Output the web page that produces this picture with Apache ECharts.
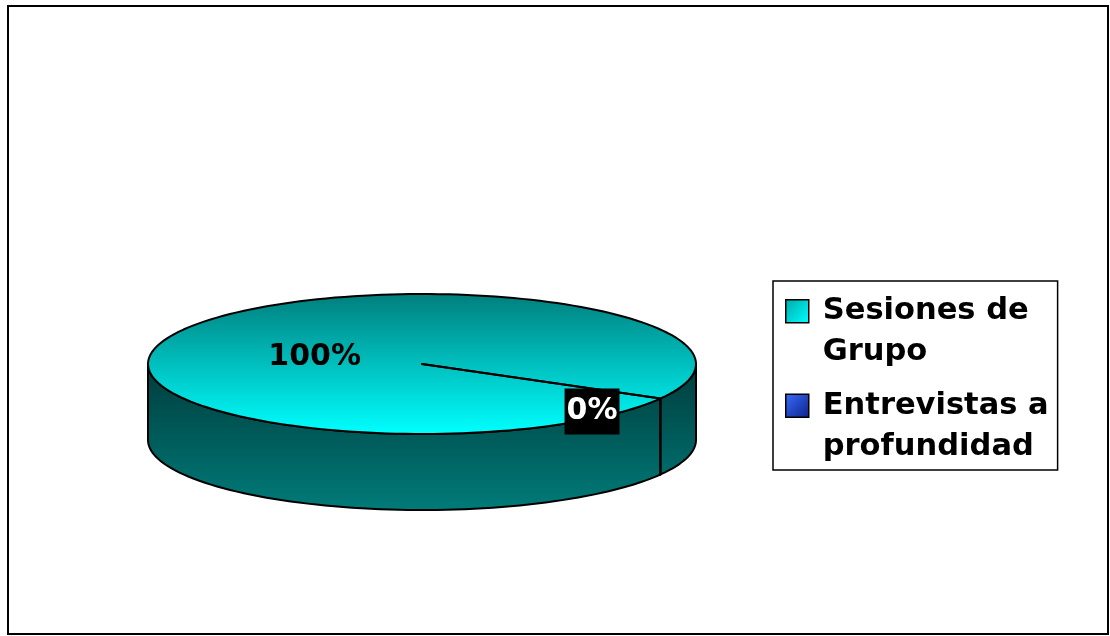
<!DOCTYPE html>
<html><head><meta charset="utf-8">
<script src="https://cdn.jsdelivr.net/npm/echarts@6/dist/echarts.min.js"></script>
<style>html,body{margin:0;padding:0;background:#fff}#c{width:1110px;height:636px}</style>
</head><body><div id="c"></div>
<script>
// ---- data ----
const categories = ['Sesiones de Grupo', 'Entrevistas a profundidad'];
const values = [100, 0];

// ---- layout / style (not data) ----
const PIE = {cx: 422, cy: 364, rx: 274, ry: 70, depth: 76, startAngle: 29.5};
const labelLayout = [{k: 0.45, dy: 9}, {k: 0.713, dy: 23}];
const labelStyle = [
  {fill: '#000', backgroundColor: null},
  {fill: '#fff', backgroundColor: '#000'}
];
const topStops = [
  [{offset: 0, color: '#007f7d'}, {offset: 1, color: '#00ffff'}],
  [{offset: 0, color: '#1a2f9a'}, {offset: 1, color: '#3366ff'}]
];
const wallStops = [
  [{offset: 0, color: '#003c3c'}, {offset: 1, color: '#007b79'}],
  [{offset: 0, color: '#0a1450'}, {offset: 1, color: '#1a3090'}]
];
const legendIconStyle = [
  {color: {type: 'linear', x: 0, y: 0.11, x2: 1, y2: 0.39, colorStops: [{offset: 0, color: '#00a8a8'}, {offset: 1, color: '#00ffff'}]}, borderColor: '#000', borderWidth: 1.5},
  {color: {type: 'linear', x: 0, y: 0.11, x2: 1, y2: 0.39, colorStops: [{offset: 0, color: '#3a6cff'}, {offset: 1, color: '#0c238a'}]}, borderColor: '#000', borderWidth: 1.5}
];

const total = values.reduce((s, v) => s + v, 0);

function pt(a, dy) {
  const r = a * Math.PI / 180;
  return [PIE.cx + PIE.rx * Math.cos(r), PIE.cy + PIE.ry * Math.sin(r) + (dy || 0)];
}
function arc(a, b, dy) {
  const pts = [];
  const n = Math.max(1, Math.ceil(Math.abs(b - a) / 2));
  for (let i = 0; i <= n; i++) pts.push(pt(a + (b - a) * i / n, dy));
  return pts;
}

function renderSlice(params, api) {
  const i = params.seriesIndex;
  let before = 0;
  for (let j = 0; j < i; j++) before += values[j];
  const a = PIE.startAngle + before / total * 360;
  const b = a + api.value(0) / total * 360;
  const children = [];
  const wallFill = {type: 'linear', x: 0, y: PIE.cy, x2: 0, y2: PIE.cy + PIE.ry + PIE.depth, global: true, colorStops: wallStops[i]};
  for (let k = -1; k <= 2; k++) {
    const s = Math.max(a, k * 360), e = Math.min(b, k * 360 + 180);
    if (e > s || (e === s && s >= k * 360 && s <= k * 360 + 180)) {
      const poly = arc(s, e, 0).concat(arc(e, s, PIE.depth));
      children.push({type: 'polygon', shape: {points: poly},
        style: {fill: wallFill, stroke: '#000', lineWidth: 2, lineJoin: 'round'}});
    }
  }
  const topFill = {type: 'linear', x: 0, y: PIE.cy - PIE.ry, x2: 0, y2: PIE.cy + PIE.ry, global: true, colorStops: topStops[i]};
  const topPts = [[PIE.cx, PIE.cy]].concat(arc(a, b, 0)).concat([[PIE.cx, PIE.cy]]);
  children.push({type: 'polygon', shape: {points: topPts},
    style: {fill: topFill, stroke: '#000', lineWidth: 2, lineJoin: 'round'}});
  // label
  const mid = (a + b) / 2, r = mid * Math.PI / 180, L = labelLayout[i];
  const pct = Math.round(api.value(0) / total * 100);
  children.push({type: 'text', z2: 10, style: {
    text: pct + '%',
    x: PIE.cx + L.k * PIE.rx * Math.cos(r),
    y: PIE.cy + L.k * PIE.ry * Math.sin(r) + L.dy,
    align: 'center', verticalAlign: 'middle',
    fontFamily: 'DejaVu Sans', fontWeight: 'bold', fontSize: 30, lineHeight: 40,
    fill: labelStyle[i].fill,
    backgroundColor: labelStyle[i].backgroundColor || 'transparent',
    padding: labelStyle[i].backgroundColor ? [3, 2, 3, 2] : 0
  }});
  return {type: 'group', children: children};
}

const chart = echarts.init(document.getElementById('c'), null, {renderer: 'canvas'});
chart.setOption({
  animation: false,
  backgroundColor: '#fff',
  graphic: [{type: 'rect', shape: {x: 8, y: 6, width: 1100, height: 628},
    style: {fill: 'none', stroke: '#000', lineWidth: 2}, silent: true}],
  legend: {
    orient: 'vertical', left: 773, top: 281,
    padding: [9, 9, 2, 12],
    borderColor: '#000', borderWidth: 1.5,
    itemWidth: 23, itemHeight: 82, itemGap: 11,
    selectedMode: false,
    data: categories.map((c, i) => ({name: c, icon: 'path://M0,0M0,9H23V32H0ZM0,82', itemStyle: legendIconStyle[i]})),
    formatter: n => { const p = n.lastIndexOf(' '); return n.slice(0, p) + '\n' + n.slice(p + 1); },
    textStyle: {fontFamily: 'DejaVu Sans', fontWeight: 'bold', fontSize: 30.5, lineHeight: 41, color: '#000', padding: [0, 0, 0, 9]}
  },
  series: categories.map((c, i) => ({
    type: 'custom', name: c, coordinateSystem: 'none',
    renderItem: renderSlice,
    itemStyle: {color: topStops[i][1].color},
    data: [[values[i]]]
  }))
});
</script></body></html>
